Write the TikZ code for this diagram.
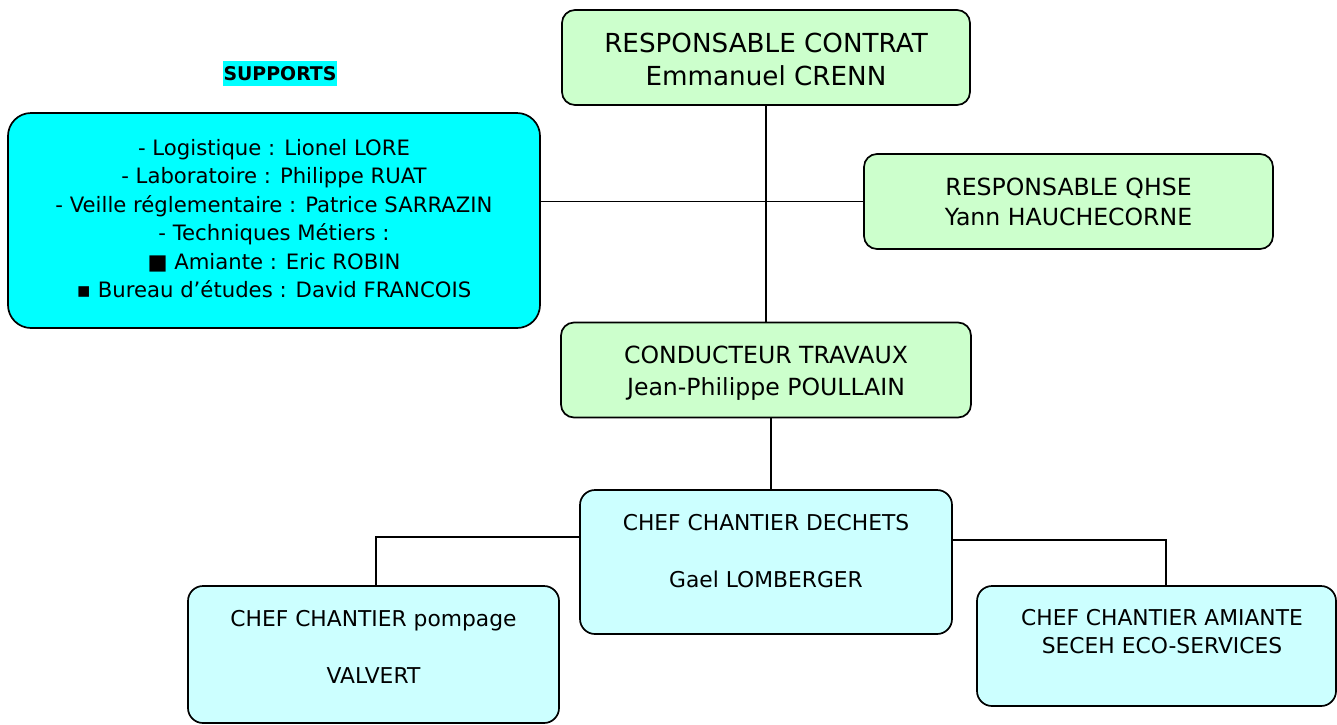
\documentclass[tikz,border=0pt]{standalone}
\usepackage{fontspec}
\setmainfont{DejaVu Sans}
\definecolor{boxgreen}{HTML}{CCFFCC}
\definecolor{boxcyan}{HTML}{00FFFF}
\definecolor{boxlcyan}{HTML}{CCFFFF}
\begin{document}
\begin{tikzpicture}[x=1pt,y=-1pt,
  box/.style={draw=black, line width=1.7pt, rounded corners=13pt, inner sep=0pt, rectangle},
  txt/.style={anchor=base, inner sep=0pt},
  link/.style={draw=black, line width=1.6pt},
  fa/.style={font=\fontsize{26.2}{30}\selectfont},
  fb/.style={font=\fontsize{23.6}{28}\selectfont},
  fc/.style={font=\fontsize{21.8}{26}\selectfont},
  fs/.style={font=\fontsize{21.2}{26}\selectfont}]
\useasboundingbox (0,0) rectangle (1337,724);
\fill[white] (0,0) rectangle (1337,724);

% boxes
\node[box, fill=boxgreen, minimum width=408pt, minimum height=95pt] (contrat) at (766,57.5) {};
\node[box, fill=boxgreen, minimum width=409pt, minimum height=95pt] (qhse) at (1068.5,201.5) {};
\node[box, fill=boxgreen, minimum width=410pt, minimum height=95pt] (conducteur) at (766,370) {};
\node[box, fill=boxcyan, rounded corners=23pt, minimum width=532pt, minimum height=215pt] (supports) at (274,220.5) {};
\node[box, fill=boxlcyan, rounded corners=15pt, minimum width=372pt, minimum height=144pt] (dechets) at (766,562) {};
\node[box, fill=boxlcyan, rounded corners=15pt, minimum width=371pt, minimum height=137pt] (pompage) at (373.5,654.5) {};
\node[box, fill=boxlcyan, rounded corners=15pt, minimum width=359pt, minimum height=120pt] (amiante) at (1156.5,646) {};

% connector helper coordinates
\coordinate (tx) at (771,450);
\coordinate (lp) at (376,537);
\coordinate (rp) at (1166,540);

% connectors
\draw[link] (contrat.south) -- (conducteur.north);
\draw[link] (supports.east |- qhse.west) -- (qhse.west);
\draw[link] (conducteur.south -| tx) -- (dechets.north -| tx);
\draw[link] (dechets.west |- lp) -- (lp) -- (lp |- pompage.north);
\draw[link] (dechets.east |- rp) -- (rp) -- (rp |- amiante.north);

% texts
\node[txt, fa] (t1) at (766,52) {RESPONSABLE CONTRAT};
\node[txt, fa] (t2) at (766,85) {Emmanuel CRENN};
\node[txt, fb] (t3) at (1068.5,195) {RESPONSABLE QHSE};
\node[txt, fb] (t4) at (1068.5,225) {Yann HAUCHECORNE};
\node[txt, fb] (t5) at (766,363) {CONDUCTEUR TRAVAUX};
\node[txt, fb] (t6) at (766,395) {Jean-Philippe POULLAIN};
\node[txt, fc] (t7) at (766,530) {CHEF CHANTIER DECHETS};
\node[txt, fc] (t8) at (766,587) {Gael LOMBERGER};
\node[txt, fc] (t9) at (373.5,626) {CHEF CHANTIER pompage};
\node[txt, fc] (t10) at (373.5,683) {VALVERT};
\node[txt, fc] (t11) at (1162,625) {CHEF CHANTIER AMIANTE};
\node[txt, fc] (t12) at (1162,653) {SECEH ECO-SERVICES};

\node[txt, fs] (s1) at (274,155) {- Logistique : Lionel LORE};
\node[txt, fs] (s2) at (274,183.5) {- Laboratoire : Philippe RUAT};
\node[txt, fs] (s3) at (274,212) {- Veille réglementaire : Patrice SARRAZIN};
\node[txt, fs] (s4) at (274,240.5) {- Techniques Métiers :};
\node[txt, fs] (s5) at (274,269) {■ Amiante : Eric ROBIN};
\node[txt, fs] (s6) at (274,297.5) {▪ Bureau d’études : David FRANCOIS};

\node[anchor=base, fill=boxcyan, inner xsep=1pt, inner ysep=0pt, text height=19pt, text depth=6pt,
  font=\fontsize{18.9}{22}\selectfont\bfseries] (suptitle) at (280,80) {SUPPORTS};
\end{tikzpicture}
\end{document}
